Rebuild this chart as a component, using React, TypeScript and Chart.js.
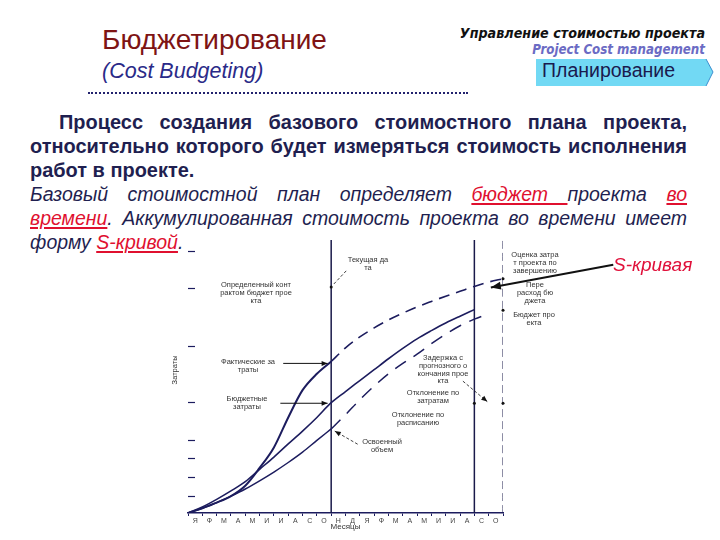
import React, { useEffect, useRef } from "react";
import { Chart, registerables } from "chart.js";
Chart.register(...registerables);

// ---- data ----
const monthLabels = ["Я","Ф","М","А","М","И","И","А","С","О","Н","Д","Я","Ф","М","А","М","И","И","А","С","О"];
const months = [0,1,2,3,4,5,6,7,8,9,10,11,12,13,14,15,16,17,18,19,20,21,22];
const budgetCost = [0,2.2,5,8.1,11.5,16,20.5,25.3,30,35,40.4,44.5,48.5,52.5,56.5,60.3,63.8,66.8,69.6,72.1,74.5,null,null];
const actualCost = [0,1.8,3.8,6.2,10,16.5,24,35,45,51,55.5,null,null,null,null,null,null,null,null,null,null,null,null];
const actualForecast = [null,null,null,null,null,null,null,null,null,null,55.5,60.5,64.5,67.8,70.7,73.2,75.5,77.5,79.4,81.2,83,84.6,85.8];
const earnedValue = [0,1.6,3.8,6.2,8.8,11.8,15,18.5,22.3,26.6,30.8,null,null,null,null,null,null,null,null,null,null,null,null];
const earnedForecast = [null,null,null,null,null,null,null,null,null,null,30.8,36,41.5,46.5,51,54.8,58.2,62,65.5,68.6,71,73,null];
const yTickValues = [6.1,13.1,20,26.8,40.6,61.3,82.4,96.1];
const currentMonth = 10;
const finishMonth = 20;
const forecastFinishMonth = 22;
const yMin = 0;
const yMax = 100;

const NAVY = "#1c1c5e";

const pts = (vals: (number | null)[]) => months.map((m, i) => ({ x: m, y: vals[i] }));
const vline = (m: number) => [{ x: m, y: yMin }, { x: m, y: yMax }];

// annotation arrows in data coordinates [month, value]
const arrows = [
  { from: [11.05, 88.7], to: [10.1, 83.4], dash: [3, 2], head: false, w: 0.8 },
  { from: [6.65, 54.8], to: [9.75, 54.8], dash: [], head: true, w: 1 },
  { from: [6.45, 40.2], to: [9.75, 40.2], dash: [], head: true, w: 1 },
  { from: [11.85, 25.2], to: [10.25, 30], dash: [3, 2], head: true, w: 0.8 },
  { from: [19.2, 48.3], to: [20.9, 40.8], dash: [3, 2], head: true, w: 0.8 },
  { from: [29.7, 90.9], to: [21.15, 82.6], dash: [], head: true, w: 2 },
];
const dots = [[10, 82.8], [22, 85.8], [22, 74.3], [20, 40.2], [22, 40.2]];

const overlayPlugin = {
  id: "overlay",
  afterDatasetsDraw(chart: any) {
    const { ctx, chartArea, scales } = chart;
    const x = scales.x, y = scales.y;
    ctx.save();
    ctx.strokeStyle = NAVY;
    ctx.lineWidth = 1.2;
    yTickValues.forEach((v) => {
      const py = Math.round(y.getPixelForValue(v)) + 0.5;
      ctx.beginPath();
      ctx.moveTo(chartArea.left, py);
      ctx.lineTo(chartArea.left + 7, py);
      ctx.stroke();
    });
    arrows.forEach((a) => {
      const x1 = x.getPixelForValue(a.from[0]), y1 = y.getPixelForValue(a.from[1]);
      const x2 = x.getPixelForValue(a.to[0]), y2 = y.getPixelForValue(a.to[1]);
      ctx.strokeStyle = "#111";
      ctx.fillStyle = "#111";
      ctx.lineWidth = a.w;
      ctx.setLineDash(a.dash);
      ctx.beginPath();
      ctx.moveTo(x1, y1);
      ctx.lineTo(x2, y2);
      ctx.stroke();
      ctx.setLineDash([]);
      if (a.head) {
        const ang = Math.atan2(y2 - y1, x2 - x1);
        const L = a.w > 1.5 ? 10 : 6, W = a.w > 1.5 ? 4 : 2.5;
        ctx.beginPath();
        ctx.moveTo(x2, y2);
        ctx.lineTo(x2 - L * Math.cos(ang) + W * Math.sin(ang), y2 - L * Math.sin(ang) - W * Math.cos(ang));
        ctx.lineTo(x2 - L * Math.cos(ang) - W * Math.sin(ang), y2 - L * Math.sin(ang) + W * Math.cos(ang));
        ctx.closePath();
        ctx.fill();
      }
    });
    ctx.fillStyle = "#111";
    dots.forEach((d) => {
      ctx.beginPath();
      ctx.arc(x.getPixelForValue(d[0]), y.getPixelForValue(d[1]), 1.5, 0, Math.PI * 2);
      ctx.fill();
    });
    ctx.restore();
  },
};

function SCurveChart() {
  const ref = useRef<HTMLCanvasElement>(null);
  useEffect(() => {
    const line = (data: any, dash: number[] = [], width = 1.6) => ({
      data, borderColor: NAVY, borderWidth: width, borderDash: dash,
      pointRadius: 0, tension: 0.4, cubicInterpolationMode: "monotone", spanGaps: false, fill: false,
    });
    const chart = new Chart(ref.current as HTMLCanvasElement, {
      type: "line",
      data: {
        datasets: [
          line(pts(budgetCost), [], 1.6),
          line(pts(actualCost), [], 2),
          line(pts(actualForecast), [11, 7], 1.6),
          line(pts(earnedValue), [], 1.5),
          line(pts(earnedForecast), [13, 9], 1.5),
          { ...line(vline(currentMonth), [], 1.5), tension: 0, borderColor: "#1a1a4a" },
          { ...line(vline(finishMonth), [], 1.5), tension: 0, borderColor: "#1a1a4a" },
          { ...line(vline(forecastFinishMonth), [8, 4], 1), tension: 0, borderColor: "#1a1a4a" },
        ] as any,
      },
      options: {
        animation: false,
        responsive: false,
        events: [],
        layout: { padding: { left: 38, right: 217, top: 10, bottom: 8 } },
        plugins: { legend: { display: false }, tooltip: { enabled: false } },
        scales: {
          x: { type: "linear", min: 0, max: forecastFinishMonth, display: false },
          y: { type: "linear", min: yMin, max: yMax, display: false },
          xm: {
            type: "category",
            labels: monthLabels,
            position: "bottom",
            offset: true,
            border: { display: true, color: NAVY, width: 1.5 },
            grid: { offset: true, drawOnChartArea: false, drawTicks: true, tickLength: 3, color: NAVY },
            ticks: { font: { size: 7, family: "Liberation Sans" }, color: "#444", padding: 1, maxRotation: 0, autoSkip: false },
            title: { display: true, text: "Месяцы", font: { size: 8, family: "Liberation Sans" }, color: "#333", padding: { top: -4, bottom: 0 } },
          },
        },
      } as any,
      plugins: [overlayPlugin],
    });
    return () => chart.destroy();
  }, []);
  return (
    <canvas ref={ref} width={570} height={310}
      style={{ position: "absolute", left: 150, top: 230, width: 570, height: 310 }} />
  );
}

const COND = "'DejaVu Sans Condensed', 'Liberation Sans', sans-serif";

const small: React.CSSProperties = {
  position: "absolute", fontFamily: "Liberation Sans, Arial, sans-serif", fontSize: 7.5,
  lineHeight: "7.8px", color: "#333", textAlign: "center", whiteSpace: "nowrap",
};

const Lbl = ({ cx, top, lines }: { cx: number; top: number; lines: string[] }) => (
  <div style={{ ...small, left: cx - 50, width: 100, top }}>
    {lines.map((l, i) => <div key={i}>{l}</div>)}
  </div>
);

const red: React.CSSProperties = { color: "#e0102f", textDecoration: "underline" };
const SX = 0.95;
const lineBase: React.CSSProperties = { height: 24, whiteSpace: "nowrap", width: 657 / SX, transform: `scaleX(${SX})`, transformOrigin: "left top" };
const lineJ: React.CSSProperties = { ...lineBase, textAlign: "justify", textAlignLast: "justify" } as any;

export default function App() {
  return (
    <div style={{ position: "absolute", left: 0, top: 0, width: 720, height: 540, background: "#fff", overflow: "hidden", fontFamily: "Liberation Sans, Arial, sans-serif" }}>
      {/* header */}
      <div style={{ position: "absolute", left: 102, top: 24, fontSize: 28, color: "#7e1414", whiteSpace: "nowrap" }}>Бюджетирование</div>
      <div style={{ position: "absolute", left: 102, top: 59, fontSize: 21.5, fontStyle: "italic", color: "#2a2a88", whiteSpace: "nowrap" }}>(Cost Budgeting)</div>
      <div style={{ position: "absolute", left: 88, top: 92, width: 380, borderTop: "2px dotted #22226e" }} />
      <div style={{ position: "absolute", right: 15, top: 25, fontSize: 14.2, fontWeight: "bold", fontStyle: "italic", color: "#111", whiteSpace: "nowrap", fontFamily: COND }}>Управление стоимостью проекта</div>
      <div style={{ position: "absolute", right: 15, top: 42, fontSize: 13.2, fontWeight: "bold", fontStyle: "italic", color: "#6b6bc4", whiteSpace: "nowrap", fontFamily: COND }}>Project Cost management</div>
      <svg style={{ position: "absolute", left: 536, top: 58 }} width={180} height={30}>
        <polygon points="0,1 170,1 177,14 170,28 0,28" fill="#72d9f4" />
        <line x1={170} y1={1} x2={177} y2={14} stroke="#3d8fd0" strokeWidth={1} />
        <line x1={177} y1={14} x2={170} y2={28} stroke="#3d8fd0" strokeWidth={1} />
      </svg>
      <div style={{ position: "absolute", left: 542, top: 59, fontSize: 19.5, color: "#1a1a4e", whiteSpace: "nowrap" }}>Планирование</div>

      {/* paragraph */}
      <div style={{ position: "absolute", left: 30, top: 110, width: 657, lineHeight: "24px", color: "#1f1f50" }}>
        <div style={{ ...lineJ, fontSize: 21, fontWeight: "bold", paddingLeft: 29 / SX, boxSizing: "border-box" }}>Процесс создания базового стоимостного плана проекта,</div>
        <div style={{ ...lineJ, fontSize: 21, fontWeight: "bold" }}>относительно которого будет измеряться стоимость исполнения</div>
        <div style={{ ...lineBase, fontSize: 21, fontWeight: "bold" }}>работ в проекте.</div>
        <div style={{ ...lineJ, fontSize: 20.5, fontStyle: "italic" }}>Базовый стоимостной план определяет <span style={red}>бюджет </span>проекта <span style={red}>во</span></div>
        <div style={{ ...lineJ, fontSize: 20.5, fontStyle: "italic" }}><span style={red}>времени</span>. Аккумулированная стоимость проекта во времени имеет</div>
        <div style={{ ...lineBase, fontSize: 20.5, fontStyle: "italic" }}>форму <span style={red}>S-кривой</span>.</div>
      </div>

      <SCurveChart />

      {/* chart annotations */}
      <div style={{ ...small, left: 160, top: 366, width: 30, transform: "rotate(-90deg)", textAlign: "center" }}>Затраты</div>
      <Lbl cx={368} top={256} lines={["Текущая да", "та"]} />
      <Lbl cx={256} top={281} lines={["Определенный конт", "рактом бюджет прое", "кта"]} />
      <Lbl cx={248} top={358} lines={["Фактические за", "траты"]} />
      <Lbl cx={247} top={395} lines={["Бюджетные", "затраты"]} />
      <Lbl cx={443} top={354} lines={["Задержка с", "прогнозного о", "кончания прое", "кта"]} />
      <Lbl cx={433} top={389} lines={["Отклонение по", "затратам"]} />
      <Lbl cx={418} top={411} lines={["Отклонение по", "расписанию"]} />
      <Lbl cx={382} top={438} lines={["Освоенный", "объем"]} />
      <Lbl cx={535} top={251} lines={["Оценка затра", "т проекта по", "завершению"]} />
      <Lbl cx={535} top={281} lines={["Пере", "расход бю", "джета"]} />
      <Lbl cx={534} top={311} lines={["Бюджет про", "екта"]} />
      <div style={{ position: "absolute", left: 613, top: 254, fontSize: 19, fontStyle: "italic", color: "#e0103a", whiteSpace: "nowrap" }}>S-кривая</div>
    </div>
  );
}
